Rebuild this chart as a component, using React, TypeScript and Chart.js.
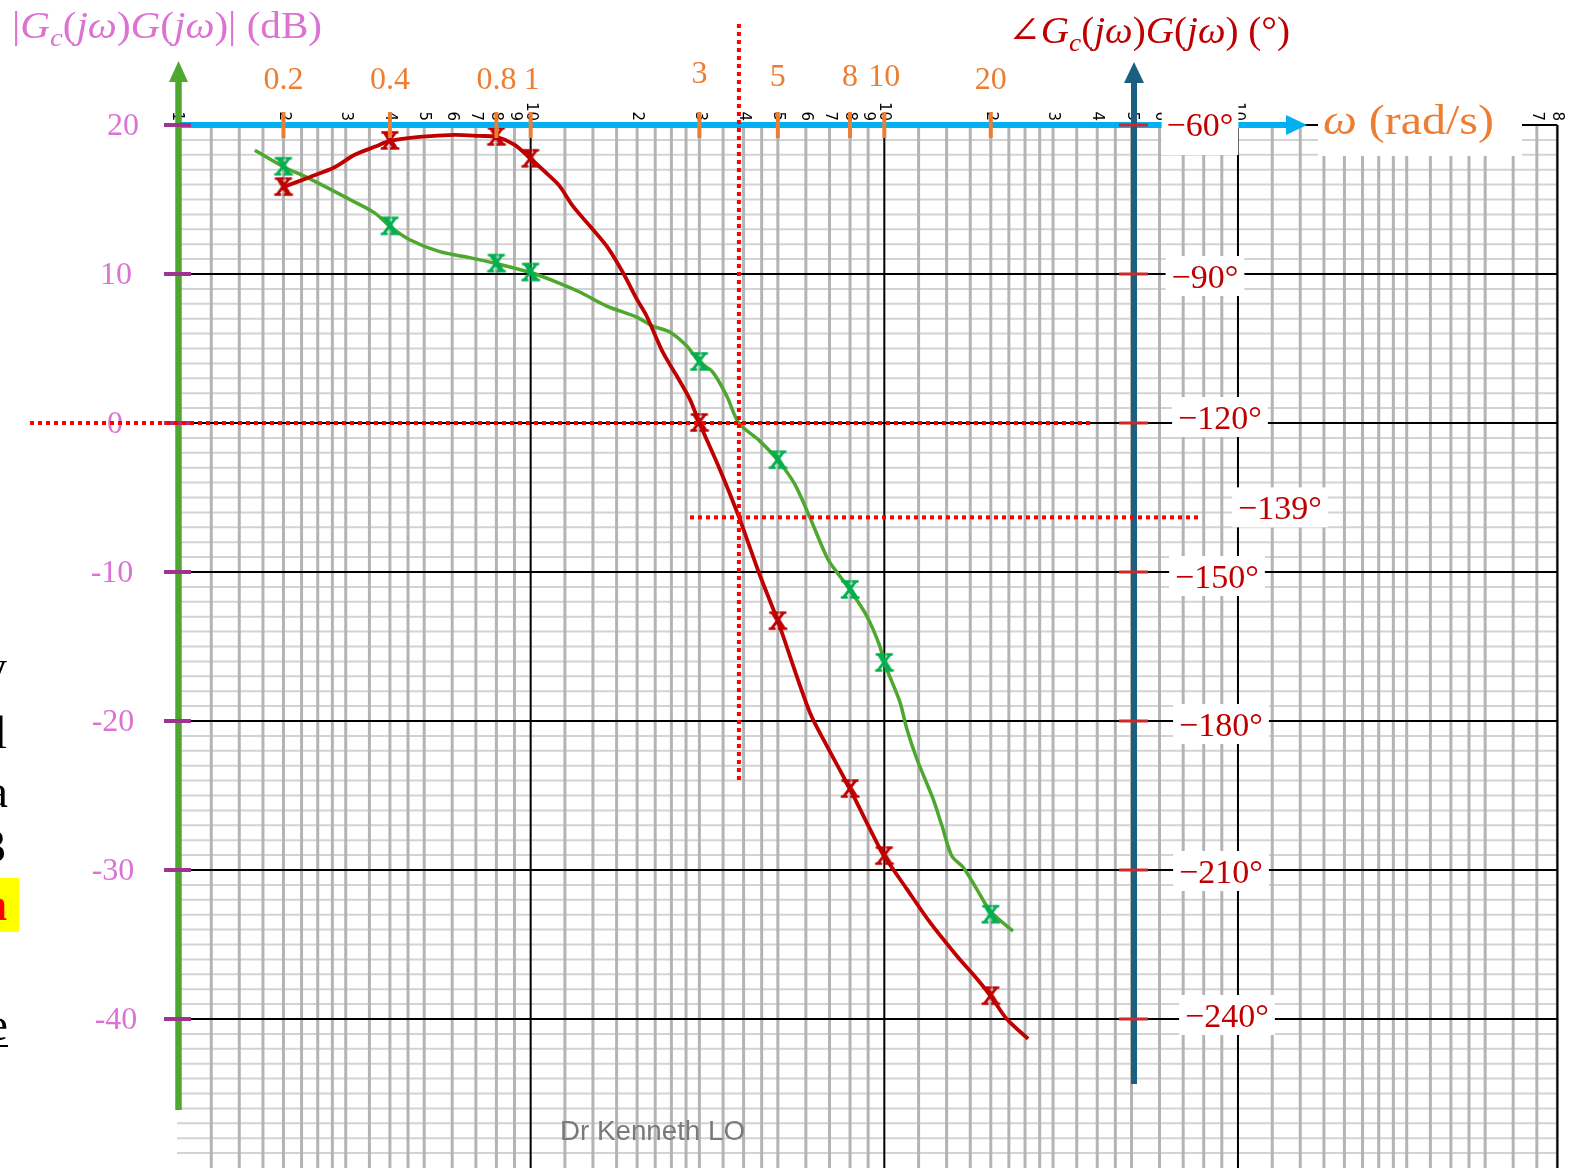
import React, { useEffect, useRef } from 'react';
import { Chart, registerables } from 'chart.js';

Chart.register(...registerables);

// ---------------- data ----------------
const OMEGA_MIN = 0.1;
const OMEGA_MAX = 863;
const PAPER_MAX = 800;
const DB_MIN = -50;
const DB_MAX = 20;
const PHASE_MIN = -270;
const PHASE_MAX = -60;

const magOmega = [0.166, 0.2, 0.237, 0.308, 0.362, 0.4, 0.455, 0.553, 0.672, 0.8, 1.0, 1.184, 1.376, 1.641, 1.994, 2.214, 2.473, 2.763, 3.0, 3.272, 3.585, 3.88, 4.44, 5.0, 5.58, 6.15, 6.92, 7.48, 8.0, 8.92, 9.71, 10, 11.06, 11.57, 12.36, 13.72, 14.54, 15.52, 16.68, 18.27, 20, 23.1];
const magDb = [18.3, 17.2, 16.4, 15.0, 14.1, 13.2, 12.3, 11.5, 11.1, 10.7, 10.1, 9.46, 8.79, 7.85, 7.11, 6.51, 6.11, 5.17, 4.1, 3.42, 1.81, 0, -1.2, -2.5, -4.1, -6.3, -9.13, -10.27, -11.2, -12.95, -14.97, -16.1, -18.7, -20.5, -22.55, -25.2, -27.0, -29.06, -29.8, -31.3, -32.8, -34.1];

const phaseOmega = [0.2, 0.237, 0.279, 0.318, 0.362, 0.4, 0.485, 0.61, 0.717, 0.8, 0.901, 1.0, 1.132, 1.208, 1.315, 1.469, 1.641, 1.82, 1.994, 2.129, 2.362, 2.588, 2.818, 3.0, 3.425, 3.88, 4.44, 5.0, 6.15, 6.88, 8.0, 9.1, 10, 11.57, 13.45, 16.04, 18.27, 20, 22.2, 25.5];
const phaseDeg = [-72.5, -70.5, -68.5, -66.0, -64.4, -63.2, -62.4, -62.0, -62.2, -62.4, -64.0, -66.8, -70.3, -72.3, -76.3, -80.3, -84.4, -89.6, -95.0, -98.5, -105.7, -110.5, -115.2, -120, -129.3, -138.9, -150.5, -159.9, -178.2, -185.0, -193.7, -201.7, -207.2, -213.8, -220.5, -227.3, -231.9, -235.4, -240.0, -244.0];

const markerOmega = [0.2, 0.4, 0.8, 1, 3, 5, 8, 10, 20];
const markerMagDb = [17.2, 13.2, 10.7, 10.1, 4.1, -2.5, -11.2, -16.1, -33.0];
const markerPhaseDeg = [-72.5, -63.2, -62.4, -66.8, -120, -159.9, -193.7, -207.2, -235.4];

const omegaTickLabels = ['0.2', '0.4', '0.8', '1', '3', '5', '8', '10', '20'];
const dbTickValues = [20, 10, 0, -10, -20, -30, -40];
const dbTickLabels = ['20', '10', '0', '-10', '-20', '-30', '-40'];
const phaseTickValues = [-60, -90, -120, -150, -180, -210, -240];
const phaseTickLabels = ['−60°', '−90°', '−120°', '−150°', '−180°', '−210°', '−240°'];
const gridMultipliers = [1.25, 1.5, 1.75, 2, 2.25, 2.5, 2.75, 3, 3.5, 4, 4.5, 5, 6, 7, 8, 9];
const paperDigits = [2, 3, 4, 5, 6, 7, 8, 9];
const decades = [0.1, 1, 10, 100];
const crossoverOmega = 3.88;
const pmPhase = -139;
const pmLabel = '−139°';

// ---------------- layout / style ----------------
const SERIF = "'Liberation Serif', 'DejaVu Serif', serif";
const ORCHID = '#dc72d3';
const DARKRED = '#c00000';
const ORANGE = '#ed7d31';
const omegaLabelBaseline = [89, 89, 89, 89, 83, 86, 86, 86, 89];
const dbLabelCenterX = [123, 116, 115, 112, 113, 113, 116];
const phaseLabelCenterX = [1200, 1205, 1220, 1217, 1221, 1221, 1227];
const phaseLabelDy = [-1, 2, -6, 4, 3, 1, -4];

type Seg = { t: string; it?: boolean; sub?: boolean };

function drawRich(ctx: CanvasRenderingContext2D, segs: Seg[], x: number, y: number, size: number, color: string, targetW?: number) {
  const fontFor = (s: Seg) => `${s.it ? 'italic ' : ''}${s.sub ? Math.round(size * 0.7) : size}px ${SERIF}`;
  let w = 0;
  for (const s of segs) { ctx.font = fontFor(s); w += ctx.measureText(s.t).width; }
  ctx.save();
  ctx.translate(x, y);
  if (targetW) ctx.scale(targetW / w, 1);
  ctx.fillStyle = color;
  ctx.textAlign = 'left';
  ctx.textBaseline = 'alphabetic';
  let cx = 0;
  for (const s of segs) {
    ctx.font = fontFor(s);
    ctx.fillText(s.t, cx, s.sub ? size * 0.22 : 0);
    cx += ctx.measureText(s.t).width;
  }
  ctx.restore();
}

function seg(ctx: CanvasRenderingContext2D, x1: number, y1: number, x2: number, y2: number) {
  ctx.beginPath();
  ctx.moveTo(x1, y1);
  ctx.lineTo(x2, y2);
  ctx.stroke();
}

function tri(ctx: CanvasRenderingContext2D, pts: number[][], color: string) {
  ctx.fillStyle = color;
  ctx.beginPath();
  ctx.moveTo(pts[0][0], pts[0][1]);
  ctx.lineTo(pts[1][0], pts[1][1]);
  ctx.lineTo(pts[2][0], pts[2][1]);
  ctx.closePath();
  ctx.fill();
}

function makeX(color: string): HTMLCanvasElement {
  const c = document.createElement('canvas');
  c.width = 32; c.height = 32;
  const g = c.getContext('2d')!;
  g.fillStyle = color;
  g.strokeStyle = color;
  g.lineWidth = 1.4;
  g.font = `bold 25px ${SERIF}`;
  g.textAlign = 'center';
  g.textBaseline = 'alphabetic';
  g.fillText('X', 16, 24);
  g.strokeText('X', 16, 24);
  return c;
}

const overlay = {
  id: 'bodeOverlay',
  beforeDraw(chart: any) {
    const ctx = chart.ctx;
    ctx.save();
    ctx.fillStyle = '#ffffff';
    ctx.fillRect(0, 0, chart.width, chart.height);
    ctx.restore();
  },
  beforeDatasetsDraw(chart: any) {
    const ctx: CanvasRenderingContext2D = chart.ctx;
    const xs = chart.scales.x, ys = chart.scales.y;
    const top = ys.getPixelForValue(DB_MAX);
    const bottom = chart.chartArea.bottom;
    const xL = xs.getPixelForValue(OMEGA_MIN);
    const xR = xs.getPixelForValue(PAPER_MAX);
    ctx.save();
    // minor horizontal lines every 1 dB
    ctx.strokeStyle = '#d3d3d3';
    ctx.lineWidth = 2;
    for (let d = DB_MIN; d <= DB_MAX; d++) {
      if (d % 10 === 0) continue;
      const y = ys.getPixelForValue(d);
      seg(ctx, xL, y, xR, y);
    }
    // minor vertical lines
    ctx.strokeStyle = '#b4b4b4';
    ctx.lineWidth = 3;
    for (const dec of decades) {
      for (const m of gridMultipliers) {
        const v = dec * m;
        if (v > PAPER_MAX + 1e-9) continue;
        const x = xs.getPixelForValue(v);
        seg(ctx, x, top, x, bottom);
      }
    }
    // major lines
    ctx.strokeStyle = '#000000';
    ctx.lineWidth = 2;
    for (let d = -40; d <= DB_MAX; d += 10) {
      const y = ys.getPixelForValue(d);
      seg(ctx, xL, y, xR, y);
    }
    for (const v of [1, 10, 100, PAPER_MAX]) {
      const x = xs.getPixelForValue(v);
      seg(ctx, x, top, x, bottom);
    }
    // rotated paper numbers
    ctx.fillStyle = '#000000';
    ctx.font = "15px 'DejaVu Sans', sans-serif";
    ctx.textAlign = 'right';
    ctx.textBaseline = 'middle';
    const drawRot = (v: number, s: string) => {
      const x = xs.getPixelForValue(v);
      ctx.save();
      ctx.translate(x, top - 4);
      ctx.rotate(Math.PI / 2);
      ctx.fillText(s, 0, 0);
      ctx.restore();
    };
    drawRot(OMEGA_MIN, '1');
    for (const dec of decades) {
      for (const dgt of paperDigits) {
        const v = dec * dgt;
        if (v <= PAPER_MAX + 1e-9) drawRot(v, String(dgt));
      }
      if (dec * 10 <= PAPER_MAX) drawRot(dec * 10, '10');
    }
    ctx.restore();
  },
  afterDatasetsDraw(chart: any) {
    const ctx: CanvasRenderingContext2D = chart.ctx;
    const xs = chart.scales.x, ys = chart.scales.y, yp = chart.scales.yPhase;
    const top = ys.getPixelForValue(DB_MAX);
    ctx.save();
    ctx.lineCap = 'butt';

    // omega axis (top, blue) with arrow
    ctx.strokeStyle = '#00b0f0';
    ctx.lineWidth = 6;
    seg(ctx, xs.getPixelForValue(OMEGA_MIN), top, 1290, top);
    tri(ctx, [[1286, top - 10], [1307, top], [1286, top + 10]], '#00b0f0');

    // orange omega ticks and labels
    ctx.strokeStyle = ORANGE;
    ctx.lineWidth = 4;
    markerOmega.forEach((w, i) => {
      const x = xs.getPixelForValue(w);
      seg(ctx, x, 112, x, 138);
      ctx.fillStyle = ORANGE;
      ctx.font = `32px ${SERIF}`;
      ctx.textAlign = 'center';
      ctx.textBaseline = 'alphabetic';
      ctx.fillText(omegaTickLabels[i], x + (i === 3 ? 1 : 0), omegaLabelBaseline[i]);
    });

    // magnitude axis (green) with arrow and purple ticks
    const gx = 178.5;
    ctx.strokeStyle = '#4ea72e';
    ctx.lineWidth = 6.5;
    seg(ctx, gx, 1110, gx, 80);
    tri(ctx, [[169, 82], [gx, 61], [188, 82]], '#4ea72e');
    ctx.strokeStyle = '#a0338f';
    ctx.lineWidth = 4;
    dbTickValues.forEach((d) => {
      const y = ys.getPixelForValue(d);
      seg(ctx, 164, y, 191, y);
    });

    // phase axis (dark blue) with arrow and red ticks
    const px = 1134;
    ctx.strokeStyle = '#1b5f82';
    ctx.lineWidth = 6;
    seg(ctx, px, 1084, px, 80);
    tri(ctx, [[1124, 83], [px, 62], [1144, 83]], '#1b5f82');
    ctx.strokeStyle = '#cc2a2a';
    ctx.lineWidth = 3;
    phaseTickValues.forEach((p) => {
      const y = yp.getPixelForValue(p);
      seg(ctx, 1119, y, 1148, y);
    });

    // phase labels with white boxes
    ctx.font = `34px ${SERIF}`;
    ctx.textAlign = 'center';
    ctx.textBaseline = 'alphabetic';
    phaseTickValues.forEach((p, i) => {
      const cy = yp.getPixelForValue(p) + phaseLabelDy[i];
      const cx = phaseLabelCenterX[i];
      const w = ctx.measureText(phaseTickLabels[i]).width;
      ctx.fillStyle = '#ffffff';
      if (i === 0) ctx.fillRect(cx - w / 2 - 5, 100, w + 10, 55);
      else ctx.fillRect(cx - w / 2 - 6, cy - 20, w + 12, 40);
      ctx.fillStyle = DARKRED;
      ctx.fillText(phaseTickLabels[i], cx, cy + 12);
    });
    {
      const cy = yp.getPixelForValue(pmPhase) - 10;
      const cx = 1280;
      const w = ctx.measureText(pmLabel).width;
      ctx.fillStyle = '#ffffff';
      ctx.fillRect(cx - w / 2 - 6, cy - 20, w + 12, 40);
      ctx.fillStyle = DARKRED;
      ctx.fillText(pmLabel, cx, cy + 12);
    }

    // omega axis label box
    ctx.fillStyle = '#ffffff';
    ctx.fillRect(1318, 98, 204, 58);
    drawRich(ctx, [{ t: 'ω', it: true }, { t: ' (rad/s)' }], 1323, 134, 42, ORANGE, 171);

    // dB labels
    ctx.font = `32px ${SERIF}`;
    ctx.textAlign = 'center';
    ctx.fillStyle = ORCHID;
    dbTickValues.forEach((d, i) => {
      const y = ys.getPixelForValue(d);
      ctx.fillText(dbTickLabels[i], dbLabelCenterX[i], y + 10);
    });

    // titles
    drawRich(ctx, [
      { t: '|' }, { t: 'G', it: true }, { t: 'c', it: true, sub: true }, { t: '(' }, { t: 'jω', it: true }, { t: ')' },
      { t: 'G', it: true }, { t: '(' }, { t: 'jω', it: true }, { t: ')|' }, { t: ' (dB)' },
    ], 12, 38, 37, ORCHID, 310);
    drawRich(ctx, [
      { t: '∠' }, { t: 'G', it: true }, { t: 'c', it: true, sub: true }, { t: '(' }, { t: 'jω', it: true }, { t: ')' },
      { t: 'G', it: true }, { t: '(' }, { t: 'jω', it: true }, { t: ')' }, { t: ' (°)' },
    ], 1008, 43, 37, DARKRED, 282);

    // red dotted construction lines
    ctx.strokeStyle = '#ff0000';
    ctx.lineWidth = 4;
    ctx.setLineDash([4, 4]);
    const y0 = ys.getPixelForValue(0);
    seg(ctx, 30, y0, 1090, y0);
    const xc = xs.getPixelForValue(crossoverOmega);
    seg(ctx, xc, 24, xc, 782);
    const ypm = yp.getPixelForValue(pmPhase);
    seg(ctx, 690, ypm, 1200, ypm);
    ctx.setLineDash([]);

    // watermark
    ctx.save();
    ctx.font = "27px 'Liberation Sans', sans-serif";
    const ww = ctx.measureText('Dr Kenneth LO').width;
    ctx.translate(560, 1140);
    ctx.scale(185 / ww, 1);
    ctx.fillStyle = '#7a7a7a';
    ctx.textAlign = 'left';
    ctx.fillText('Dr Kenneth LO', 0, 0);
    ctx.restore();

    // clipped slide text at left edge
    ctx.font = `46px ${SERIF}`;
    ctx.textAlign = 'right';
    ctx.fillStyle = '#000000';
    ctx.fillText('y', 7, 682);
    ctx.fillText('l', 7, 748);
    ctx.fillText('a', 8, 807);
    ctx.fillText('3', 6, 862);
    ctx.fillStyle = '#ffff00';
    ctx.fillRect(0, 878, 19, 54);
    ctx.fillStyle = '#ff0000';
    ctx.font = `bold 46px ${SERIF}`;
    ctx.fillText('n', 7, 920);
    ctx.fillStyle = '#000000';
    ctx.font = `46px ${SERIF}`;
    ctx.fillText('.', 3, 977);
    ctx.fillText('e', 8, 1040);
    ctx.strokeStyle = '#000000';
    ctx.lineWidth = 2;
    seg(ctx, 0, 1046, 8, 1046);

    ctx.restore();
  },
};

export default function App() {
  const ref = useRef<HTMLCanvasElement | null>(null);
  useEffect(() => {
    if (!ref.current) return;
    const greenX = makeX('#00b050');
    const redX = makeX('#c00000');
    const chart = new Chart(ref.current, {
      type: 'scatter',
      data: {
        datasets: [
          {
            label: 'phase markers',
            data: markerOmega.map((w, i) => ({ x: w, y: markerPhaseDeg[i] })),
            yAxisID: 'yPhase',
            showLine: false,
            pointStyle: redX as any,
            pointRadius: 10,
          },
          {
            label: 'magnitude markers',
            data: markerOmega.map((w, i) => ({ x: w, y: markerMagDb[i] })),
            yAxisID: 'y',
            showLine: false,
            pointStyle: greenX as any,
            pointRadius: 10,
          },
          {
            label: 'phase',
            data: phaseOmega.map((w, i) => ({ x: w, y: phaseDeg[i] })),
            yAxisID: 'yPhase',
            showLine: true,
            borderColor: '#c00000',
            borderWidth: 3.8,
            pointRadius: 0,
            tension: 0.3,
          },
          {
            label: 'magnitude',
            data: magOmega.map((w, i) => ({ x: w, y: magDb[i] })),
            yAxisID: 'y',
            showLine: true,
            borderColor: '#4ea72e',
            borderWidth: 3.5,
            pointRadius: 0,
            tension: 0.3,
          },
        ],
      },
      options: {
        animation: false,
        responsive: false,
        events: [],
        layout: { autoPadding: false, padding: { left: 177, top: 125, right: 0, bottom: 0 } },
        plugins: { legend: { display: false }, tooltip: { enabled: false } },
        scales: {
          x: { type: 'logarithmic', min: OMEGA_MIN, max: OMEGA_MAX, display: false, bounds: 'data' },
          y: { type: 'linear', min: DB_MIN, max: DB_MAX, display: false },
          yPhase: { type: 'linear', position: 'right', min: PHASE_MIN, max: PHASE_MAX, display: false },
        },
      },
      plugins: [overlay],
    });
    return () => chart.destroy();
  }, []);
  return (
    <div style={{ position: 'absolute', left: 0, top: 0, width: 1569, height: 1168, background: '#ffffff' }}>
      <canvas ref={ref} width={1569} height={1168} style={{ display: 'block' }} />
    </div>
  );
}
